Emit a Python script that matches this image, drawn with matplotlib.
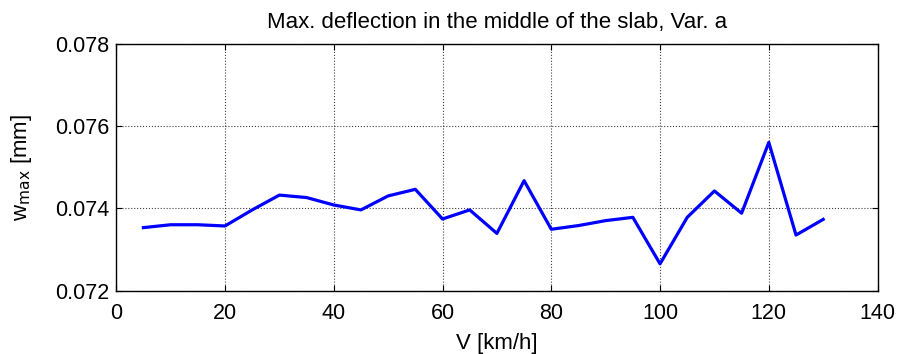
import numpy as np
import matplotlib
matplotlib.use("Agg")
import matplotlib.pyplot as plt

plt.rcParams['font.family'] = ['Liberation Sans', 'DejaVu Sans']

# speed [km/h] and max deflection [mm]
speed = [5, 10, 15, 20, 25, 30, 35, 40, 45, 50, 55, 60, 65,
         70, 75, 80, 85, 90, 95, 100, 105, 110, 115, 120, 125, 130]
w_max = [0.07353, 0.07360, 0.07360, 0.07357, 0.07396, 0.07432, 0.07426,
         0.07408, 0.07396, 0.07430, 0.07446, 0.07374, 0.07396, 0.07339,
         0.07467, 0.07349, 0.07358, 0.07370, 0.07378, 0.07265, 0.07378,
         0.07442, 0.07388, 0.07560, 0.07335, 0.07373]

x_ticks = [0, 20, 40, 60, 80, 100, 120, 140]
y_ticks = [0.072, 0.074, 0.076, 0.078]

fig = plt.figure(figsize=(9.01, 3.54), dpi=100)
ax = fig.add_axes([0.129, 0.179, 0.845, 0.698])

ax.plot(speed, w_max, color='#0000FF', lw=2.3)

ax.set_xlim(0, 140)
ax.set_ylim(0.072, 0.078)
ax.set_xticks(x_ticks)
ax.set_yticks(y_ticks)
ax.set_yticklabels(['%.3f' % v for v in y_ticks])
ax.grid(True, color='black', linestyle=':', linewidth=0.8, alpha=0.75)
ax.tick_params(direction='in', top=True, right=True, labelsize=15.5, length=4)
ax.tick_params(axis='x', pad=9)
ax.tick_params(axis='y', pad=5)
for s in ax.spines.values():
    s.set_linewidth(1.0)

ax.set_title('Max. deflection in the middle of the slab, Var. a', fontsize=16, pad=11)
ax.set_xlabel('V [km/h]', fontsize=16)
ax.set_ylabel(r'w$_{\mathrm{max}}$ [mm]', fontsize=16)
ax.xaxis.set_label_coords(0.5, -0.17)
ax.yaxis.set_label_coords(-0.108, 0.5)

fig.savefig('out.png', dpi=100)
